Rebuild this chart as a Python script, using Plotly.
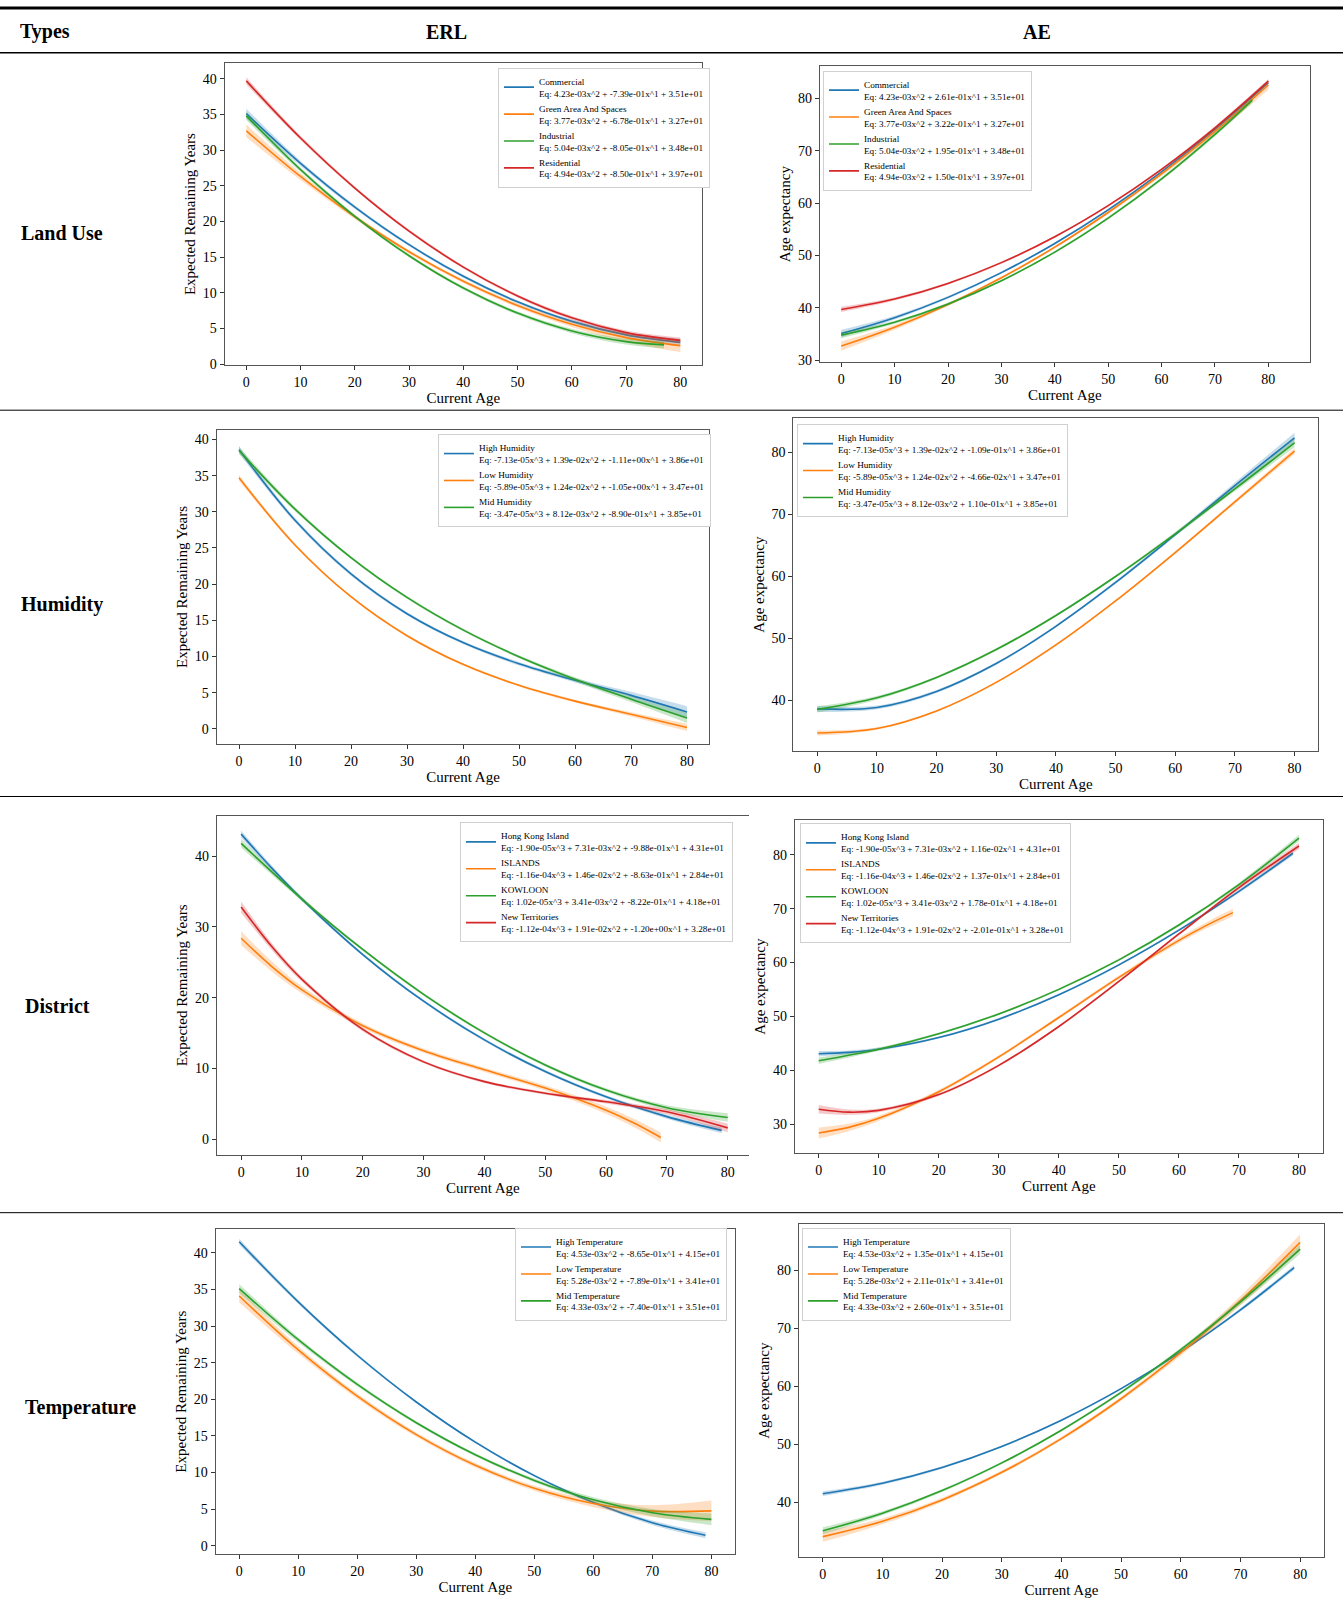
import plotly.graph_objects as go

W, H = 1343, 1602
FONT = "Liberation Serif"

def px(x):
    return x / W

def py(y):
    return 1 - y / H

# ---------------- DATA ----------------
AGES = [0, 10, 20, 30, 40, 50, 60, 70, 80]

# Land Use
lu_names = ["Commercial", "Green Area And Spaces", "Industrial", "Residential"]
lu_x = [AGES, AGES, [0, 10, 20, 30, 40, 50, 60, 70, 77], AGES]
lu_erl = [
    [35.10, 28.13, 22.01, 16.74, 12.31, 8.73, 5.99, 4.10, 3.05],
    [32.70, 26.30, 20.65, 15.75, 11.61, 8.23, 5.59, 3.71, 2.59],
    [34.80, 27.25, 20.72, 15.19, 10.66, 7.15, 4.64, 3.15, 2.70],
    [39.70, 31.69, 24.68, 18.65, 13.60, 9.55, 6.48, 4.41, 3.32],
]
lu_ae = [
    [35.10, 38.13, 42.01, 46.74, 52.31, 58.73, 65.99, 74.10, 83.05],
    [32.70, 36.30, 40.65, 45.75, 51.61, 58.23, 65.59, 73.71, 82.59],
    [34.80, 37.25, 40.72, 45.19, 50.66, 57.15, 64.64, 73.15, 79.70],
    [39.70, 41.69, 44.68, 48.65, 53.60, 59.55, 66.48, 74.41, 83.32],
]
lu_ci = [
    [0.7, 0.35, 0.25, 0.2, 0.2, 0.2, 0.25, 0.35, 0.5],
    [0.9, 0.5, 0.3, 0.25, 0.25, 0.3, 0.4, 0.6, 0.9],
    [0.6, 0.3, 0.25, 0.2, 0.2, 0.25, 0.3, 0.4, 0.5],
    [0.5, 0.3, 0.2, 0.2, 0.2, 0.2, 0.25, 0.3, 0.4],
]
lu_eq_erl = [
    "Eq: 4.23e-03x^2 + -7.39e-01x^1 + 3.51e+01",
    "Eq: 3.77e-03x^2 + -6.78e-01x^1 + 3.27e+01",
    "Eq: 5.04e-03x^2 + -8.05e-01x^1 + 3.48e+01",
    "Eq: 4.94e-03x^2 + -8.50e-01x^1 + 3.97e+01",
]
lu_eq_ae = [
    "Eq: 4.23e-03x^2 + 2.61e-01x^1 + 3.51e+01",
    "Eq: 3.77e-03x^2 + 3.22e-01x^1 + 3.27e+01",
    "Eq: 5.04e-03x^2 + 1.95e-01x^1 + 3.48e+01",
    "Eq: 4.94e-03x^2 + 1.50e-01x^1 + 3.97e+01",
]

# Humidity
hu_names = ["High Humidity", "Low Humidity", "Mid Humidity"]
hu_x = [AGES, AGES, AGES]
hu_erl = [
    [38.60, 28.83, 21.41, 15.91, 11.92, 8.99, 6.70, 4.62, 2.33],
    [34.70, 25.42, 18.26, 12.87, 8.91, 6.01, 3.82, 2.00, 0.18],
    [38.50, 30.38, 23.67, 18.17, 13.67, 9.96, 6.84, 4.09, 1.50],
]
hu_ae = [
    [38.60, 38.83, 41.41, 45.91, 51.92, 58.99, 66.70, 74.62, 82.33],
    [34.70, 35.42, 38.26, 42.87, 48.91, 56.01, 63.82, 72.00, 80.18],
    [38.50, 40.38, 43.67, 48.17, 53.67, 59.96, 66.84, 74.09, 81.50],
]
hu_ci = [
    [0.5, 0.3, 0.25, 0.2, 0.2, 0.25, 0.3, 0.5, 0.8],
    [0.4, 0.2, 0.15, 0.15, 0.15, 0.15, 0.2, 0.3, 0.5],
    [0.5, 0.3, 0.2, 0.2, 0.2, 0.2, 0.3, 0.4, 0.7],
]
hu_eq_erl = [
    "Eq: -7.13e-05x^3 + 1.39e-02x^2 + -1.11e+00x^1 + 3.86e+01",
    "Eq: -5.89e-05x^3 + 1.24e-02x^2 + -1.05e+00x^1 + 3.47e+01",
    "Eq: -3.47e-05x^3 + 8.12e-03x^2 + -8.90e-01x^1 + 3.85e+01",
]
hu_eq_ae = [
    "Eq: -7.13e-05x^3 + 1.39e-02x^2 + -1.09e-01x^1 + 3.86e+01",
    "Eq: -5.89e-05x^3 + 1.24e-02x^2 + -4.66e-02x^1 + 3.47e+01",
    "Eq: -3.47e-05x^3 + 8.12e-03x^2 + 1.10e-01x^1 + 3.85e+01",
]

# District
di_names = ["Hong Kong Island", "ISLANDS", "KOWLOON", "New Territories"]
di_x = [
    [0, 5, 10, 20, 30, 40, 50, 60, 70, 79],
    [0, 5, 10, 20, 30, 40, 50, 60, 65, 69],
    AGES,
    [0, 5, 10, 20, 30, 40, 50, 60, 70, 80],
]
di_erl = [
    [43.10, 38.34, 33.93, 26.10, 19.51, 14.04, 9.58, 6.01, 3.21, 1.27],
    [28.40, 24.44, 21.11, 16.05, 12.52, 9.82, 7.25, 4.12, 2.13, 0.26],
    [41.80, 33.93, 26.81, 20.48, 15.03, 10.50, 6.96, 4.47, 3.09],
    [32.80, 27.26, 22.59, 15.52, 10.94, 8.15, 6.50, 5.31, 3.90, 1.62],
]
di_ae = [
    [43.10, 43.34, 43.93, 46.10, 49.51, 54.04, 59.58, 66.01, 73.21, 80.27],
    [28.40, 29.44, 31.11, 36.05, 42.52, 49.82, 57.25, 64.12, 67.13, 69.26],
    [41.80, 43.93, 46.81, 50.48, 55.03, 60.50, 66.96, 74.47, 83.09],
    [32.80, 32.26, 32.59, 35.52, 40.94, 48.15, 56.50, 65.31, 73.90, 81.62],
]
di_ci = [
    [0.5, 0.35, 0.3, 0.2, 0.2, 0.2, 0.2, 0.2, 0.3, 0.4],
    [1.0, 0.7, 0.5, 0.35, 0.3, 0.3, 0.35, 0.5, 0.6, 0.7],
    [0.6, 0.3, 0.2, 0.2, 0.2, 0.2, 0.25, 0.35, 0.6],
    [0.8, 0.5, 0.35, 0.25, 0.2, 0.2, 0.2, 0.25, 0.35, 0.6],
]
di_eq_erl = [
    "Eq: -1.90e-05x^3 + 7.31e-03x^2 + -9.88e-01x^1 + 4.31e+01",
    "Eq: -1.16e-04x^3 + 1.46e-02x^2 + -8.63e-01x^1 + 2.84e+01",
    "Eq: 1.02e-05x^3 + 3.41e-03x^2 + -8.22e-01x^1 + 4.18e+01",
    "Eq: -1.12e-04x^3 + 1.91e-02x^2 + -1.20e+00x^1 + 3.28e+01",
]
di_eq_ae = [
    "Eq: -1.90e-05x^3 + 7.31e-03x^2 + 1.16e-02x^1 + 4.31e+01",
    "Eq: -1.16e-04x^3 + 1.46e-02x^2 + 1.37e-01x^1 + 2.84e+01",
    "Eq: 1.02e-05x^3 + 3.41e-03x^2 + 1.78e-01x^1 + 4.18e+01",
    "Eq: -1.12e-04x^3 + 1.91e-02x^2 + -2.01e-01x^1 + 3.28e+01",
]

# Temperature
te_names = ["High Temperature", "Low Temperature", "Mid Temperature"]
te_x = [[0, 10, 20, 30, 40, 50, 60, 70, 79], AGES, AGES]
te_erl = [
    [41.50, 33.30, 26.01, 19.63, 14.15, 9.58, 5.91, 3.15, 1.44],
    [34.10, 26.74, 20.43, 15.18, 10.99, 7.85, 5.77, 4.74, 4.77],
    [35.10, 28.13, 22.03, 16.80, 12.43, 8.93, 6.29, 4.52, 3.61],
]
te_ae = [
    [41.50, 43.30, 46.01, 49.63, 54.15, 59.58, 65.91, 73.15, 80.44],
    [34.10, 36.74, 40.43, 45.18, 50.99, 57.85, 65.77, 74.74, 84.77],
    [35.10, 38.13, 42.03, 46.80, 52.43, 58.93, 66.29, 74.52, 83.61],
]
te_ci = [
    [0.4, 0.25, 0.2, 0.15, 0.15, 0.15, 0.2, 0.3, 0.4],
    [0.9, 0.5, 0.35, 0.3, 0.3, 0.35, 0.5, 0.8, 1.4],
    [0.6, 0.35, 0.25, 0.2, 0.2, 0.25, 0.35, 0.5, 0.8],
]
te_eq_erl = [
    "Eq: 4.53e-03x^2 + -8.65e-01x^1 + 4.15e+01",
    "Eq: 5.28e-03x^2 + -7.89e-01x^1 + 3.41e+01",
    "Eq: 4.33e-03x^2 + -7.40e-01x^1 + 3.51e+01",
]
te_eq_ae = [
    "Eq: 4.53e-03x^2 + 1.35e-01x^1 + 4.15e+01",
    "Eq: 5.28e-03x^2 + 2.11e-01x^1 + 3.41e+01",
    "Eq: 4.33e-03x^2 + 2.60e-01x^1 + 3.51e+01",
]

row_labels = ["Land Use", "Humidity", "District", "Temperature"]
header_labels = ["Types", "ERL", "AE"]
x_ticks = [0, 10, 20, 30, 40, 50, 60, 70, 80]

# ---------------- STYLE / LAYOUT ----------------
COLORS = ["#1f77b4", "#ff7f0e", "#2ca02c", "#d62728"]
BANDS = ["rgba(31,119,180,0.25)", "rgba(255,127,14,0.25)",
         "rgba(44,160,44,0.25)", "rgba(214,39,40,0.25)"]

# panel: (names, xs, ys, ci, eqs, domain px [x0,x1,ytop,ybottom], xrange, yrange, ytitle, dtick, legend pos px, right border)
panels = [
    (lu_names, lu_x, lu_erl, lu_ci, lu_eq_erl, (224.6, 702, 63.3, 366.7), [-4, 84], [-0.14, 42.2], "Expected Remaining Years", 5, (498, 68), True),
    (lu_names, lu_x, lu_ae, lu_ci, lu_eq_ae, (819.7, 1310, 66.4, 363.9), [-4.03, 87.8], [29.6, 86.2], "Age expectancy", 10, (823, 71), True),
    (hu_names, hu_x, hu_erl, hu_ci, hu_eq_erl, (216.6, 709.4, 432, 747), [-4, 84], [-2.07, 41.3], "Expected Remaining Years", 5, (438, 436), True),
    (hu_names, hu_x, hu_ae, hu_ci, hu_eq_ae, (793.4, 1318.4, 420, 754.3), [-4, 84], [31.8, 85.5], "Age expectancy", 10, (797, 426), True),
    (di_names, di_x, di_erl, di_ci, di_eq_erl, (216.8, 749, 819.3, 1160), [-4, 83.5], [-2.2, 45.7], "Expected Remaining Years", 10, (460, 826), False),
    (di_names, di_x, di_ae, di_ci, di_eq_ae, (794.7, 1323, 823.8, 1158), [-4, 84], [24.7, 86.4], "Age expectancy", 10, (800, 827), True),
    (te_names, te_x, te_erl, te_ci, te_eq_erl, (215.6, 735, 1234.7, 1560.7), [-4, 84], [-1.1, 43.2], "Expected Remaining Years", 5, (515, 1233), True),
    (te_names, te_x, te_ae, te_ci, te_eq_ae, (798.9, 1324, 1229.6, 1563.8), [-4, 84], [30.6, 87.9], "Age expectancy", 10, (802, 1233), True),
]

fig = go.Figure()
layout = dict(
    width=W, height=H, margin=dict(l=0, r=0, t=0, b=0),
    paper_bgcolor="white", plot_bgcolor="white",
    font=dict(family=FONT, color="black"),
)

for i, (names, xs, ys, ci, eqs, dom, xr, yr, ytitle, dt, lpos, rb) in enumerate(panels, start=1):
    xa = "x" if i == 1 else f"x{i}"
    ya = "y" if i == 1 else f"y{i}"
    lg = "legend" if i == 1 else f"legend{i}"
    for k, name in enumerate(names):
        xv, yv, hw = xs[k], ys[k], ci[k]
        lo = [a - b for a, b in zip(yv, hw)]
        hi = [a + b for a, b in zip(yv, hw)]
        fig.add_trace(go.Scatter(x=xv, y=lo, xaxis=xa, yaxis=ya, mode="lines",
                                 line=dict(width=0, shape="spline", color=BANDS[k]),
                                 showlegend=False, hoverinfo="skip", legend=lg))
        fig.add_trace(go.Scatter(x=xv, y=hi, xaxis=xa, yaxis=ya, mode="lines",
                                 line=dict(width=0, shape="spline", color=BANDS[k]),
                                 fill="tonexty", fillcolor=BANDS[k],
                                 showlegend=False, hoverinfo="skip", legend=lg))
        fig.add_trace(go.Scatter(x=xv, y=yv, xaxis=xa, yaxis=ya, mode="lines",
                                 line=dict(width=1.6, shape="spline", color=COLORS[k]),
                                 name=f"{name}<br>{eqs[k]}", legend=lg))
    axcommon = dict(showline=True, linecolor="#555", linewidth=1, ticks="outside",
                    ticklen=4, tickcolor="#333", showgrid=False, zeroline=False,
                    tickfont=dict(family=FONT, size=14, color="black"))
    layout["xaxis" if i == 1 else f"xaxis{i}"] = dict(
        axcommon, domain=[px(dom[0]), px(dom[1])], range=xr, anchor=ya,
        mirror=True, tickvals=x_ticks,
        title=dict(text="Current Age", font=dict(family=FONT, size=15), standoff=2))
    layout["yaxis" if i == 1 else f"yaxis{i}"] = dict(
        axcommon, domain=[py(dom[3]), py(dom[2])], range=yr, anchor=xa,
        mirror=rb, dtick=dt, tick0=0,
        title=dict(text=ytitle, font=dict(family=FONT, size=15), standoff=3))
    layout[lg] = dict(x=px(lpos[0]), y=py(lpos[1]), xanchor="left", yanchor="top",
                      bgcolor="white", bordercolor="#d0d0d0", borderwidth=1,
                      font=dict(family=FONT, size=9.2, color="black"),
                      traceorder="normal", tracegroupgap=0, itemwidth=30)

# table lines
shapes = []
for yy, wdt in [(8, 3), (53, 1.5), (412, 1), (800, 1), (1218, 1)]:
    shapes.append(dict(type="line", xref="paper", yref="paper", x0=0, x1=1,
                       y0=py(yy), y1=py(yy), line=dict(color="black", width=wdt)))
layout["shapes"] = shapes

annotations = []
for txt, xx, anc in zip(header_labels, [18, 446, 1037], ["left", "center", "center"]):
    annotations.append(dict(text=f"<b>{txt}</b>", x=px(xx), y=py(32), xref="paper", yref="paper",
                            xanchor=anc, yanchor="middle", showarrow=False,
                            font=dict(family=FONT, size=20, color="black")))
for txt, xx, yy in zip(row_labels, [19, 19, 23, 23], [234, 607, 1010, 1414]):
    annotations.append(dict(text=f"<b>{txt}</b>", x=px(xx), y=py(yy), xref="paper", yref="paper",
                            xanchor="left", yanchor="middle", showarrow=False,
                            font=dict(family=FONT, size=20, color="black")))
layout["annotations"] = annotations

fig.update_layout(**layout)
fig.write_html("out.html",
               config={"displayModeBar": False},
               post_script="document.body.style.margin='0px';document.body.style.overflow='hidden';")
